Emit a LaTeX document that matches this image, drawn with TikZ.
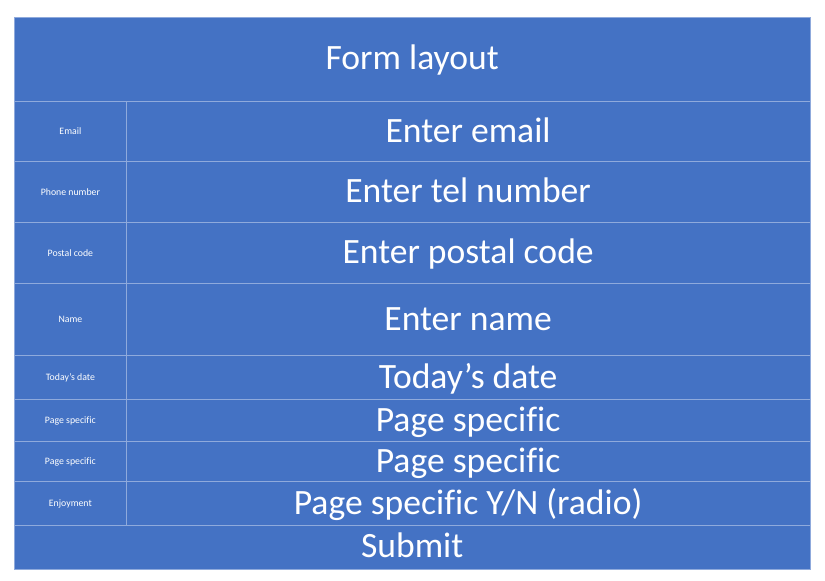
\documentclass[tikz,border=0pt]{standalone}
\usepackage{fontspec}
\setmainfont[Ligatures=NoCommon]{Carlito}
\definecolor{cellblue}{HTML}{4472C4}
\definecolor{gridline}{HTML}{8FAADC}
\begin{document}
\begin{tikzpicture}[x=1pt,y=-1pt,
  bigtext/.style={text=white,anchor=base,inner sep=0pt,font=\fontsize{35.6}{42}\selectfont},
  smalltext/.style={text=white,anchor=base,inner sep=0pt,font=\fontsize{9.8}{12}\selectfont},
  rule/.style={draw=gridline,line width=1pt}]
\useasboundingbox (0,0) rectangle (825,581);
% table background
\fill[cellblue] (14.5,17.3) rectangle (810,569);
% row separators
\foreach \yy in {101,161.3,222.3,283.3,355.3,399.3,441.3,481.3,525.3}
  \draw[rule] (14.5,\yy) -- (810,\yy);
% label column separator
\draw[rule] (126.3,101) -- (126.3,525.3);
% outer frame
\draw[rule] (14.5,17.3) rectangle (810,569);
% header and footer
\node[bigtext] (title) at (412.2,69) {Form layout};
\node[bigtext] (submit) at (412.2,557.5) {Submit};
% field rows: label, field text
\node[smalltext] (l1) at (70.4,134.6) {Email};
\node[bigtext]   (f1) at (468.1,142.2) {Enter email};
\node[smalltext] (l2) at (70.4,195.2) {Phone number};
\node[bigtext]   (f2) at (468.1,202.8) {Enter tel number};
\node[smalltext] (l3) at (70.4,256.2) {Postal code};
\node[bigtext]   (f3) at (468.1,263.8) {Enter postal code};
\node[smalltext] (l4) at (70.4,322.7) {Name};
\node[bigtext]   (f4) at (468.1,330.3) {Enter name};
\node[smalltext] (l5) at (70.4,380.7) {Today’s date};
\node[bigtext]   (f5) at (468.1,388.3) {Today’s date};
\node[smalltext] (l6) at (70.4,423.7) {Page specific};
\node[bigtext]   (f6) at (468.1,431.3) {Page specific};
\node[smalltext] (l7) at (70.4,464.7) {Page specific};
\node[bigtext]   (f7) at (468.1,472.3) {Page specific};
\node[smalltext] (l8) at (70.4,506.7) {Enjoyment};
\node[bigtext]   (f8) at (468.1,514.3) {Page specific Y/N (radio)};
\end{tikzpicture}
\end{document}
